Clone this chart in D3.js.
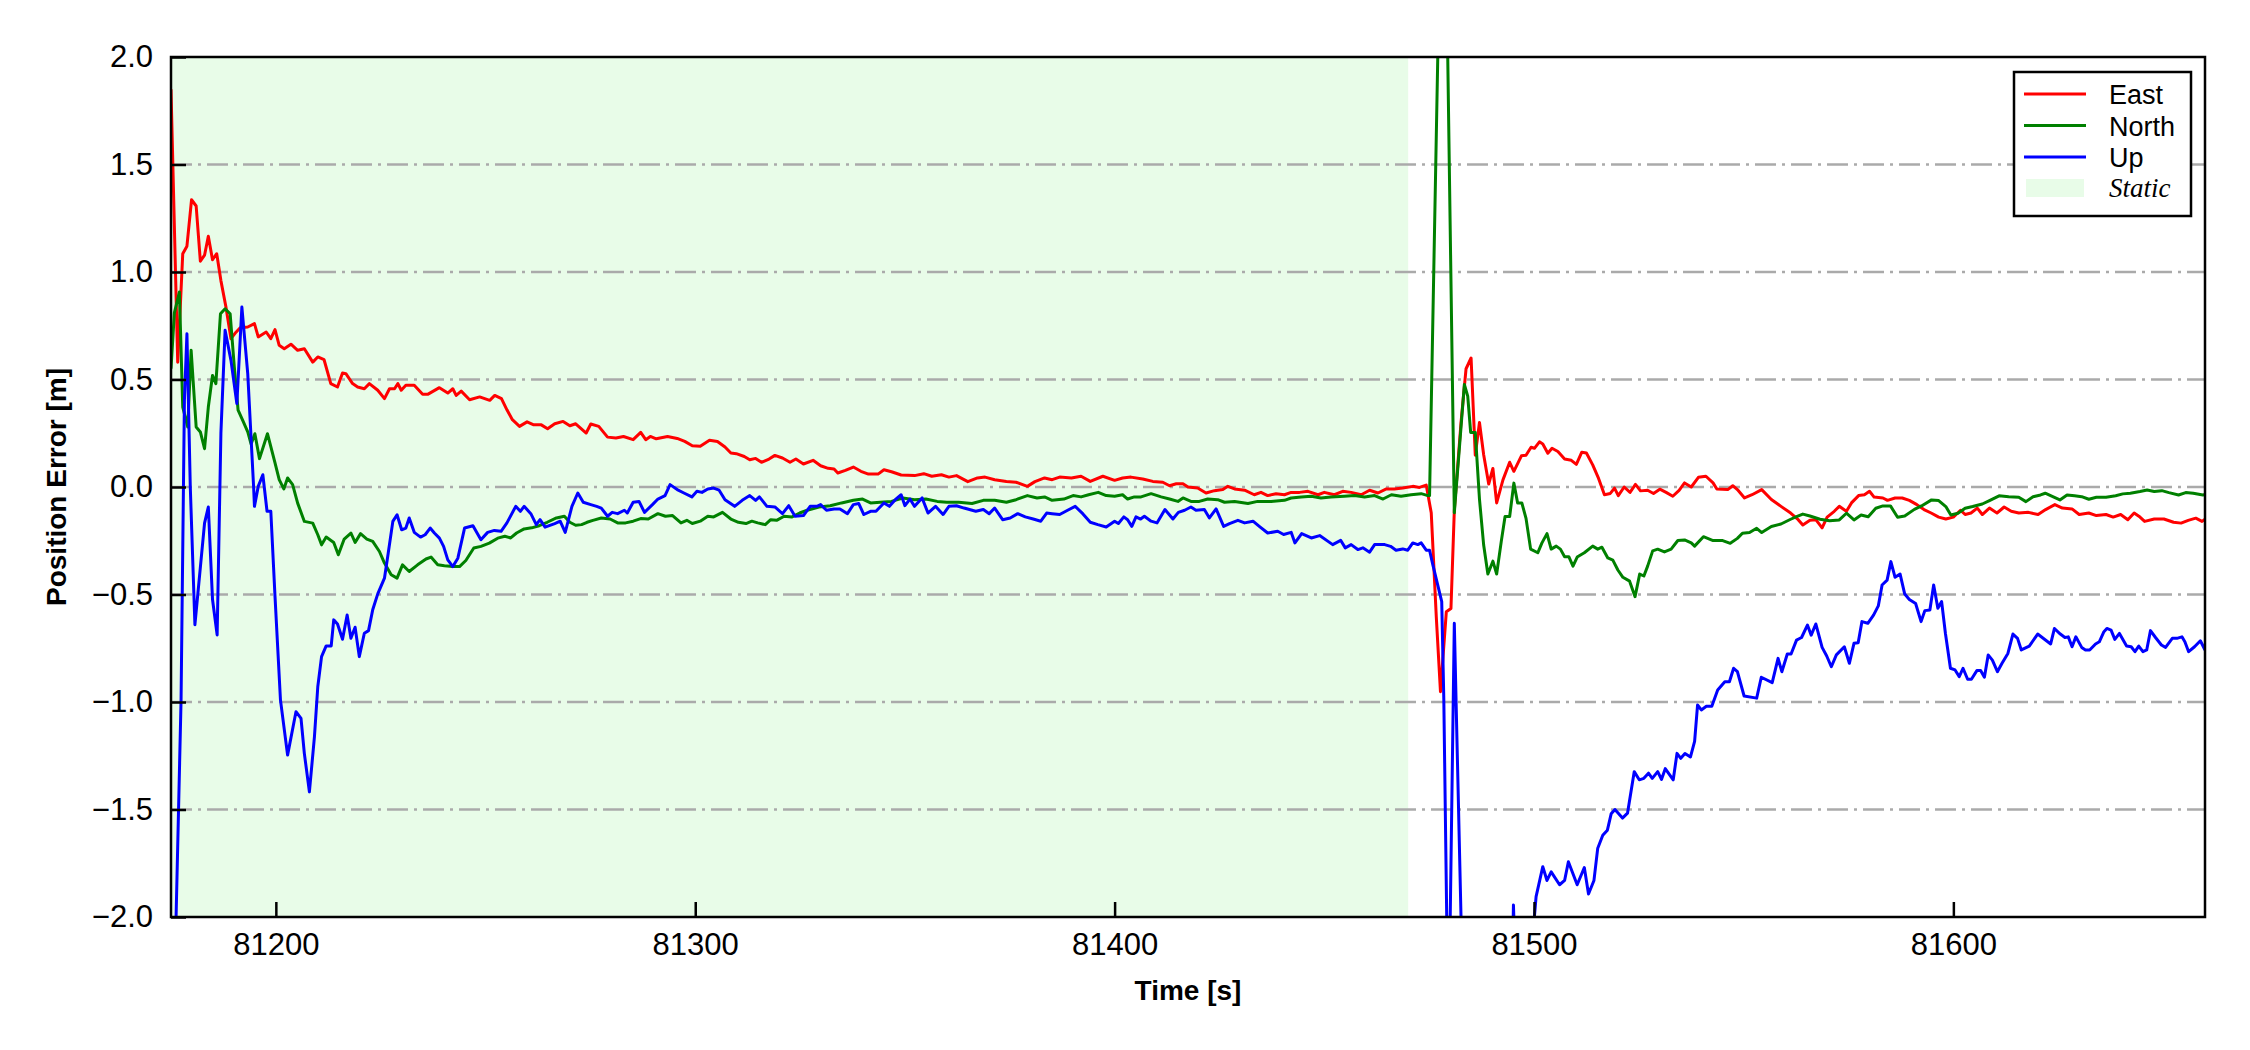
<!DOCTYPE html>
<html>
<head>
<meta charset="utf-8">
<script src="https://cdn.jsdelivr.net/npm/d3@7"></script>
<style>
  body { margin: 0; background: #fff; }
  svg { display: block; font-family: "Liberation Sans", Arial, sans-serif; }
</style>
</head>
<body>
<div id="chart"></div>
<script>
// time range and static period
var timeRange = [81175, 81660];
var staticPeriod = [81175, 81470];
var xTicks = [81200, 81300, 81400, 81500, 81600];
var yTicks = [-2.0, -1.5, -1.0, -0.5, 0.0, 0.5, 1.0, 1.5, 2.0];
var gridValues = [-1.5, -1.0, -0.5, 0.0, 0.5, 1.0, 1.5];
var seriesNames = ["East", "North", "Up"];
var seriesColors = ["#ff0000", "#008000", "#0000ff"];

// [time, error]
var eastPoints = [[81175.0,1.85],[81176.6,0.58],[81177.8,1.085],[81178.8,1.12],[81179.9,1.336],[81181.0,1.307],[81182.0,1.05],[81183.0,1.078],[81183.9,1.166],[81184.9,1.057],[81185.9,1.085],[81186.9,0.96],[81188.1,0.837],[81189.3,0.69],[81190.5,0.72],[81191.5,0.741],[81193.3,0.744],[81194.9,0.76],[81195.8,0.698],[81197.7,0.721],[81198.8,0.69],[81199.8,0.732],[81200.8,0.659],[81202.0,0.643],[81203.6,0.664],[81205.2,0.636],[81206.8,0.643],[81208.8,0.581],[81210.0,0.605],[81211.5,0.592],[81213.1,0.481],[81214.7,0.465],[81215.9,0.53],[81216.7,0.527],[81218.3,0.481],[81219.5,0.465],[81221.1,0.457],[81222.3,0.481],[81224.3,0.45],[81225.9,0.411],[81227.1,0.457],[81228.3,0.457],[81229.1,0.481],[81229.9,0.45],[81231.0,0.473],[81233.0,0.473],[81235.0,0.431],[81236.2,0.431],[81239.0,0.462],[81241.0,0.437],[81242.2,0.457],[81243.0,0.426],[81244.2,0.446],[81246.2,0.406],[81248.6,0.419],[81251.0,0.403],[81252.2,0.426],[81253.8,0.411],[81255.1,0.359],[81256.4,0.313],[81258.1,0.282],[81259.9,0.303],[81261.5,0.289],[81263.3,0.289],[81264.8,0.271],[81266.5,0.294],[81268.5,0.305],[81270.1,0.285],[81271.5,0.294],[81274.0,0.251],[81275.1,0.293],[81277.0,0.282],[81279.1,0.232],[81281.1,0.228],[81282.9,0.235],[81285.2,0.22],[81287.0,0.254],[81288.2,0.22],[81289.3,0.235],[81290.7,0.224],[81293.4,0.235],[81295.7,0.226],[81297.5,0.212],[81299.3,0.192],[81301.2,0.189],[81303.4,0.217],[81305.3,0.212],[81307.1,0.186],[81308.5,0.158],[81309.8,0.155],[81311.7,0.142],[81313.0,0.127],[81314.4,0.133],[81315.8,0.115],[81317.6,0.13],[81319.0,0.147],[81320.8,0.135],[81322.6,0.115],[81324.0,0.13],[81325.8,0.107],[81328.1,0.124],[81329.9,0.099],[81331.7,0.087],[81333.1,0.084],[81334.0,0.065],[81335.8,0.077],[81337.7,0.093],[81339.5,0.073],[81341.3,0.06],[81343.6,0.06],[81345.0,0.08],[81346.8,0.071],[81349.1,0.056],[81352.3,0.053],[81354.5,0.062],[81356.4,0.05],[81358.7,0.057],[81360.5,0.046],[81362.3,0.053],[81365.0,0.025],[81367.3,0.042],[81369.1,0.046],[81371.4,0.034],[81374.2,0.026],[81376.5,0.022],[81379.2,0.003],[81381.0,0.025],[81383.3,0.042],[81385.1,0.034],[81386.9,0.046],[81389.7,0.042],[81392.0,0.05],[81394.2,0.026],[81397.2,0.05],[81400.0,0.031],[81401.9,0.042],[81403.9,0.046],[81406.7,0.037],[81409.1,0.026],[81411.5,0.022],[81413.1,0.006],[81414.7,0.015],[81416.3,0.015],[81417.5,0.0],[81419.8,-0.005],[81421.8,-0.028],[81423.8,-0.017],[81425.8,-0.012],[81427.0,0.003],[81428.6,-0.009],[81431.0,-0.015],[81433.3,-0.036],[81434.9,-0.025],[81436.5,-0.04],[81438.5,-0.031],[81440.5,-0.036],[81442.1,-0.025],[81444.1,-0.025],[81446.1,-0.02],[81448.5,-0.036],[81450.0,-0.025],[81452.4,-0.036],[81454.4,-0.02],[81456.4,-0.025],[81458.8,-0.036],[81460.8,-0.015],[81462.8,-0.028],[81464.8,-0.009],[81466.7,-0.009],[81468.7,-0.005],[81471.1,0.003],[81472.7,-0.002],[81474.3,0.009],[81475.5,-0.12],[81476.7,-0.603],[81477.7,-0.952],[81479.1,-0.58],[81480.2,-0.565],[81481.0,-0.11],[81482.6,0.30],[81483.8,0.55],[81485.0,0.60],[81486.0,0.148],[81487.0,0.30],[81488.0,0.15],[81489.2,0.014],[81490.2,0.086],[81491.1,-0.074],[81492.6,0.033],[81494.2,0.115],[81495.2,0.073],[81497.0,0.145],[81498.1,0.148],[81499.3,0.185],[81500.1,0.18],[81501.3,0.21],[81502.1,0.20],[81503.3,0.157],[81504.3,0.18],[81505.7,0.165],[81507.3,0.13],[81508.9,0.124],[81510.1,0.105],[81511.4,0.162],[81512.5,0.158],[81514.0,0.103],[81515.4,0.04],[81516.8,-0.036],[81518.2,-0.03],[81519.2,-0.005],[81520.1,-0.04],[81521.5,0.0],[81522.9,-0.025],[81524.2,0.012],[81525.4,-0.018],[81527.1,-0.015],[81528.5,-0.03],[81530.0,-0.01],[81531.5,-0.025],[81533.1,-0.043],[81534.6,-0.016],[81535.9,0.019],[81537.5,0.0],[81539.2,0.045],[81541.0,0.05],[81542.7,0.019],[81543.6,-0.009],[81546.2,-0.012],[81547.4,0.006],[81548.5,-0.012],[81550.2,-0.051],[81552.0,-0.036],[81554.3,-0.012],[81556.6,-0.058],[81558.9,-0.09],[81561.2,-0.121],[81563.0,-0.152],[81564.1,-0.177],[81565.8,-0.155],[81567.2,-0.152],[81568.7,-0.19],[81569.9,-0.14],[81571.6,-0.113],[81572.8,-0.09],[81574.5,-0.113],[81575.7,-0.074],[81577.4,-0.04],[81578.8,-0.036],[81580.0,-0.02],[81581.1,-0.047],[81583.2,-0.051],[81584.3,-0.062],[81586.1,-0.051],[81587.8,-0.051],[81589.5,-0.062],[81591.3,-0.082],[81593.0,-0.105],[81594.7,-0.121],[81596.5,-0.14],[81598.2,-0.149],[81600.0,-0.14],[81601.7,-0.108],[81602.8,-0.128],[81604.2,-0.121],[81605.7,-0.098],[81606.9,-0.128],[81608.6,-0.098],[81610.4,-0.121],[81612.1,-0.093],[81613.8,-0.113],[81615.6,-0.121],[81617.9,-0.118],[81620.2,-0.128],[81622.0,-0.105],[81624.2,-0.082],[81626.0,-0.098],[81628.3,-0.102],[81630.0,-0.128],[81632.3,-0.121],[81634.1,-0.133],[81636.4,-0.128],[81638.1,-0.14],[81639.9,-0.128],[81641.6,-0.152],[81643.1,-0.121],[81644.5,-0.14],[81645.6,-0.16],[81647.9,-0.149],[81650.2,-0.149],[81652.5,-0.164],[81654.3,-0.168],[81656.0,-0.155],[81657.8,-0.145],[81659.3,-0.16],[81660.0,-0.15]];

var northPoints = [[81175.0,0.55],[81175.8,0.81],[81177.0,0.907],[81177.8,0.372],[81179.0,0.279],[81179.8,0.636],[81181.0,0.279],[81182.0,0.256],[81183.0,0.178],[81183.9,0.372],[81184.9,0.519],[81185.7,0.481],[81186.8,0.806],[81187.9,0.829],[81189.1,0.806],[81190.1,0.558],[81191.0,0.357],[81192.1,0.31],[81193.3,0.256],[81194.1,0.2],[81195.0,0.248],[81196.1,0.132],[81198.0,0.248],[81199.8,0.112],[81200.8,0.034],[81201.9,-0.009],[81202.8,0.042],[81204.0,0.011],[81205.2,-0.075],[81206.8,-0.16],[81208.8,-0.168],[81210.0,-0.222],[81210.9,-0.269],[81212.0,-0.233],[81213.8,-0.258],[81214.9,-0.315],[81216.3,-0.242],[81217.9,-0.214],[81218.9,-0.258],[81220.2,-0.217],[81221.7,-0.242],[81223.1,-0.253],[81224.7,-0.3],[81225.9,-0.354],[81227.5,-0.408],[81228.9,-0.424],[81230.2,-0.362],[81231.8,-0.393],[81233.8,-0.362],[81235.8,-0.335],[81237.0,-0.326],[81238.6,-0.362],[81240.2,-0.366],[81242.2,-0.37],[81243.8,-0.37],[81245.3,-0.342],[81247.2,-0.284],[81248.9,-0.276],[81250.9,-0.261],[81252.9,-0.238],[81254.6,-0.229],[81256.0,-0.237],[81257.4,-0.214],[81259.2,-0.195],[81261.0,-0.19],[81262.8,-0.18],[81264.7,-0.164],[81266.9,-0.144],[81268.8,-0.136],[81270.1,-0.164],[81271.5,-0.178],[81272.9,-0.175],[81274.2,-0.164],[81275.6,-0.155],[81277.6,-0.144],[81279.7,-0.149],[81281.5,-0.167],[81283.4,-0.167],[81285.2,-0.159],[81287.0,-0.147],[81288.8,-0.149],[81291.1,-0.124],[81292.9,-0.136],[81294.6,-0.133],[81296.6,-0.167],[81298.0,-0.155],[81299.3,-0.17],[81301.2,-0.159],[81303.0,-0.136],[81304.4,-0.139],[81306.5,-0.118],[81308.5,-0.149],[81310.3,-0.164],[81312.1,-0.17],[81313.5,-0.159],[81314.9,-0.167],[81316.7,-0.175],[81318.0,-0.152],[81319.4,-0.155],[81321.2,-0.136],[81323.1,-0.139],[81324.9,-0.121],[81326.7,-0.108],[81329.5,-0.093],[81332.2,-0.087],[81334.9,-0.074],[81337.7,-0.062],[81339.9,-0.056],[81341.8,-0.074],[81344.1,-0.071],[81346.8,-0.067],[81349.5,-0.051],[81352.3,-0.059],[81355.0,-0.056],[81357.7,-0.067],[81360.0,-0.071],[81362.8,-0.071],[81366.0,-0.077],[81368.7,-0.062],[81371.4,-0.062],[81374.2,-0.071],[81376.5,-0.059],[81379.2,-0.04],[81381.5,-0.051],[81383.3,-0.046],[81385.1,-0.062],[81387.9,-0.056],[81390.1,-0.04],[81392.0,-0.046],[81393.8,-0.036],[81396.1,-0.025],[81398.0,-0.04],[81400.0,-0.043],[81401.9,-0.036],[81403.1,-0.056],[81404.7,-0.046],[81406.3,-0.046],[81408.7,-0.031],[81411.1,-0.046],[81413.1,-0.056],[81415.1,-0.067],[81416.3,-0.051],[81418.2,-0.067],[81420.2,-0.067],[81422.2,-0.056],[81424.6,-0.059],[81426.2,-0.071],[81428.6,-0.067],[81431.8,-0.077],[81434.1,-0.067],[81437.3,-0.067],[81440.5,-0.062],[81442.1,-0.051],[81444.5,-0.046],[81446.9,-0.043],[81449.2,-0.051],[81451.6,-0.046],[81454.8,-0.043],[81457.2,-0.04],[81459.6,-0.046],[81462.0,-0.04],[81464.0,-0.056],[81466.0,-0.036],[81468.3,-0.043],[81470.7,-0.036],[81473.1,-0.031],[81474.7,-0.04],[81475.1,-0.04],[81478.4,3.4],[81481.0,-0.12],[81483.4,0.477],[81484.2,0.423],[81484.9,0.254],[81486.0,0.254],[81487.0,-0.056],[81488.0,-0.27],[81489.0,-0.405],[81490.2,-0.345],[81491.1,-0.405],[81492.2,-0.253],[81493.1,-0.137],[81494.2,-0.137],[81495.2,0.018],[81496.1,-0.074],[81497.1,-0.074],[81498.1,-0.146],[81499.2,-0.289],[81500.9,-0.306],[81501.9,-0.26],[81503.1,-0.217],[81504.1,-0.289],[81505.3,-0.275],[81506.3,-0.289],[81507.3,-0.324],[81508.3,-0.324],[81509.3,-0.368],[81510.3,-0.326],[81512.0,-0.306],[81514.0,-0.275],[81515.2,-0.289],[81516.2,-0.28],[81517.6,-0.33],[81518.8,-0.34],[81520.0,-0.386],[81521.2,-0.42],[81522.8,-0.438],[81524.1,-0.51],[81525.2,-0.405],[81526.2,-0.414],[81527.1,-0.368],[81528.3,-0.297],[81529.5,-0.289],[81531.1,-0.302],[81532.7,-0.289],[81534.3,-0.249],[81535.9,-0.246],[81537.5,-0.26],[81538.3,-0.275],[81540.4,-0.231],[81542.7,-0.249],[81545.0,-0.249],[81546.8,-0.262],[81548.5,-0.239],[81549.7,-0.215],[81551.4,-0.212],[81553.1,-0.192],[81554.3,-0.212],[81556.6,-0.184],[81558.9,-0.172],[81561.2,-0.15],[81562.6,-0.138],[81564.1,-0.126],[81565.8,-0.135],[81568.2,-0.15],[81570.5,-0.157],[81572.8,-0.153],[81574.5,-0.122],[81576.3,-0.153],[81578.0,-0.13],[81579.7,-0.138],[81581.5,-0.099],[81583.2,-0.088],[81585.0,-0.088],[81586.7,-0.141],[81588.4,-0.135],[81590.7,-0.104],[81592.4,-0.088],[81594.8,-0.06],[81596.5,-0.063],[81598.2,-0.091],[81599.4,-0.13],[81601.1,-0.122],[81602.8,-0.099],[81604.6,-0.091],[81606.9,-0.079],[81608.6,-0.063],[81610.9,-0.041],[81613.2,-0.045],[81615.6,-0.048],[81617.3,-0.068],[81619.0,-0.045],[81620.8,-0.037],[81621.9,-0.029],[81623.7,-0.045],[81625.4,-0.06],[81627.1,-0.037],[81628.9,-0.041],[81630.6,-0.045],[81632.3,-0.057],[81634.1,-0.048],[81636.4,-0.048],[81638.7,-0.041],[81640.4,-0.032],[81642.2,-0.029],[81644.5,-0.021],[81646.2,-0.014],[81647.9,-0.021],[81649.7,-0.017],[81651.4,-0.026],[81653.7,-0.037],[81655.4,-0.026],[81657.2,-0.029],[81659.5,-0.037],[81660.0,-0.035]];

var upPoints = [[81175.0,-3.2],[81176.2,-2.01],[81177.4,-0.99],[81178.2,0.405],[81178.8,0.713],[81179.6,0.0],[81180.7,-0.641],[81183.0,-0.168],[81183.9,-0.093],[81184.9,-0.523],[81186.0,-0.688],[81186.9,0.25],[81187.9,0.729],[81189.3,0.589],[81190.7,0.388],[81191.9,0.837],[81193.3,0.527],[81194.7,0.0],[81194.9,-0.09],[81195.8,0.003],[81196.9,0.057],[81197.9,-0.113],[81198.8,-0.113],[81199.8,-0.509],[81201.1,-0.99],[81202.8,-1.247],[81204.8,-1.045],[81206.0,-1.076],[81206.8,-1.24],[81208.0,-1.418],[81209.2,-1.162],[81210.0,-0.929],[81210.9,-0.789],[81212.0,-0.739],[81213.2,-0.739],[81213.8,-0.618],[81214.7,-0.637],[81215.9,-0.708],[81217.0,-0.595],[81217.9,-0.703],[81218.9,-0.652],[81219.9,-0.789],[81221.1,-0.68],[81222.1,-0.668],[81223.1,-0.571],[81224.3,-0.497],[81225.9,-0.424],[81226.8,-0.307],[81227.9,-0.16],[81228.9,-0.129],[81230.0,-0.199],[81231.0,-0.191],[81231.8,-0.144],[81233.0,-0.211],[81234.5,-0.233],[81235.6,-0.222],[81236.8,-0.191],[81237.8,-0.214],[81239.0,-0.238],[81240.0,-0.276],[81241.0,-0.339],[81242.2,-0.37],[81243.4,-0.331],[81245.0,-0.191],[81247.0,-0.18],[81248.9,-0.245],[81250.5,-0.211],[81252.1,-0.202],[81253.7,-0.206],[81255.1,-0.167],[81257.2,-0.09],[81258.3,-0.113],[81259.2,-0.09],[81260.8,-0.124],[81262.1,-0.175],[81263.0,-0.152],[81264.2,-0.187],[81266.5,-0.17],[81267.8,-0.159],[81269.0,-0.211],[81270.6,-0.09],[81272.0,-0.028],[81273.3,-0.071],[81275.1,-0.082],[81276.5,-0.09],[81277.6,-0.098],[81279.1,-0.136],[81280.2,-0.118],[81281.5,-0.124],[81283.1,-0.108],[81283.8,-0.121],[81285.2,-0.071],[81286.6,-0.067],[81287.9,-0.118],[81289.8,-0.082],[81291.1,-0.056],[81292.8,-0.04],[81294.0,0.011],[81295.7,-0.012],[81297.3,-0.028],[81299.2,-0.046],[81300.4,-0.02],[81301.6,-0.025],[81303.0,-0.009],[81304.4,-0.005],[81305.7,-0.015],[81307.1,-0.059],[81309.4,-0.09],[81311.2,-0.062],[81313.0,-0.04],[81314.4,-0.062],[81315.3,-0.046],[81317.1,-0.09],[81319.0,-0.093],[81320.8,-0.124],[81322.3,-0.087],[81323.8,-0.136],[81325.8,-0.133],[81327.4,-0.09],[81329.0,-0.09],[81329.9,-0.082],[81331.3,-0.108],[81333.1,-0.102],[81334.5,-0.102],[81336.3,-0.124],[81337.7,-0.082],[81339.0,-0.077],[81340.2,-0.128],[81341.8,-0.113],[81343.1,-0.113],[81345.0,-0.074],[81346.3,-0.09],[81347.7,-0.059],[81349.1,-0.036],[81350.0,-0.087],[81351.2,-0.056],[81352.3,-0.09],[81354.1,-0.051],[81355.5,-0.121],[81357.3,-0.09],[81359.1,-0.128],[81360.5,-0.09],[81362.3,-0.087],[81364.1,-0.098],[81366.9,-0.113],[81368.7,-0.105],[81370.1,-0.124],[81371.4,-0.098],[81373.3,-0.152],[81375.1,-0.144],[81376.9,-0.124],[81378.7,-0.139],[81380.6,-0.149],[81382.4,-0.159],[81383.8,-0.121],[81385.1,-0.124],[81386.9,-0.128],[81388.8,-0.108],[81390.6,-0.09],[81392.4,-0.124],[81394.2,-0.164],[81396.0,-0.175],[81398.0,-0.186],[81400.0,-0.159],[81400.9,-0.17],[81402.2,-0.139],[81403.1,-0.152],[81404.1,-0.183],[81405.1,-0.139],[81406.2,-0.149],[81407.1,-0.136],[81408.7,-0.159],[81410.1,-0.167],[81412.0,-0.105],[81413.9,-0.149],[81415.2,-0.118],[81416.7,-0.108],[81418.2,-0.093],[81419.4,-0.108],[81421.4,-0.105],[81422.6,-0.144],[81424.2,-0.102],[81426.0,-0.183],[81427.4,-0.17],[81429.4,-0.155],[81431.0,-0.167],[81433.0,-0.159],[81434.5,-0.183],[81436.5,-0.214],[81438.9,-0.206],[81440.3,-0.221],[81442.1,-0.211],[81443.0,-0.26],[81444.6,-0.217],[81446.9,-0.237],[81448.9,-0.226],[81452.0,-0.268],[81453.9,-0.248],[81455.0,-0.283],[81456.4,-0.268],[81458.0,-0.291],[81459.2,-0.283],[81460.8,-0.303],[81462.0,-0.268],[81464.4,-0.268],[81465.8,-0.276],[81467.1,-0.294],[81468.7,-0.288],[81469.9,-0.294],[81471.1,-0.26],[81472.3,-0.268],[81473.1,-0.26],[81474.3,-0.294],[81475.1,-0.294],[81475.9,-0.363],[81478.0,-0.533],[81478.5,-0.99],[81479.6,-2.6],[81481.0,-0.634],[81482.6,-2.0],[81483.5,-2.6],[81494.5,-2.6],[81495.1,-1.944],[81495.7,-2.3],[81498.8,-2.3],[81500.5,-1.905],[81502.1,-1.766],[81503.1,-1.83],[81504.1,-1.79],[81506.1,-1.85],[81507.3,-1.83],[81508.2,-1.743],[81510.3,-1.85],[81512.0,-1.77],[81513.0,-1.893],[81514.3,-1.83],[81515.2,-1.68],[81516.4,-1.62],[81517.5,-1.596],[81518.4,-1.52],[81519.3,-1.50],[81521.1,-1.54],[81522.3,-1.517],[81523.9,-1.324],[81525.1,-1.362],[81526.2,-1.355],[81527.3,-1.331],[81528.2,-1.355],[81529.5,-1.324],[81530.4,-1.36],[81531.3,-1.31],[81533.2,-1.362],[81534.1,-1.239],[81535.0,-1.262],[81536.0,-1.24],[81537.3,-1.256],[81538.3,-1.183],[81539.0,-1.014],[81539.9,-1.037],[81541.1,-1.02],[81542.4,-1.02],[81543.8,-0.944],[81545.5,-0.906],[81546.6,-0.906],[81547.6,-0.843],[81548.5,-0.859],[81550.1,-0.972],[81553.1,-0.982],[81554.2,-0.885],[81556.8,-0.91],[81558.2,-0.797],[81559.1,-0.859],[81560.4,-0.777],[81561.3,-0.777],[81562.6,-0.712],[81563.8,-0.70],[81565.2,-0.642],[81566.1,-0.689],[81567.2,-0.637],[81568.7,-0.746],[81569.8,-0.786],[81570.9,-0.836],[81572.1,-0.781],[81574.0,-0.743],[81575.2,-0.82],[81576.3,-0.727],[81577.3,-0.724],[81578.2,-0.626],[81579.6,-0.634],[81581.0,-0.595],[81582.1,-0.553],[81583.0,-0.456],[81584.2,-0.433],[81585.1,-0.347],[81586.1,-0.42],[81587.3,-0.405],[81588.4,-0.498],[81589.5,-0.523],[81591.0,-0.542],[81592.3,-0.626],[81593.2,-0.575],[81594.4,-0.572],[81595.3,-0.456],[81596.3,-0.564],[81597.2,-0.533],[81598.1,-0.68],[81599.3,-0.843],[81600.4,-0.851],[81601.4,-0.882],[81602.3,-0.843],[81603.4,-0.894],[81604.3,-0.894],[81605.6,-0.854],[81606.5,-0.854],[81607.4,-0.885],[81608.3,-0.781],[81609.3,-0.805],[81610.5,-0.859],[81611.6,-0.82],[81613.0,-0.774],[81614.2,-0.684],[81615.3,-0.704],[81616.2,-0.758],[81618.1,-0.74],[81620.1,-0.684],[81621.8,-0.709],[81623.2,-0.73],[81624.1,-0.658],[81625.5,-0.684],[81626.6,-0.70],[81627.4,-0.697],[81628.3,-0.743],[81629.2,-0.697],[81630.6,-0.746],[81631.5,-0.758],[81632.5,-0.758],[81633.9,-0.73],[81634.8,-0.72],[81635.9,-0.673],[81636.6,-0.658],[81637.6,-0.666],[81638.5,-0.709],[81639.6,-0.681],[81641.3,-0.74],[81642.4,-0.743],[81643.3,-0.766],[81644.2,-0.74],[81645.2,-0.766],[81646.1,-0.758],[81647.0,-0.668],[81648.2,-0.70],[81649.6,-0.735],[81650.6,-0.746],[81652.2,-0.704],[81653.3,-0.704],[81654.5,-0.697],[81655.2,-0.72],[81656.1,-0.766],[81657.5,-0.743],[81658.9,-0.715],[81660.0,-0.758]];

var width = 2250;
var height = 1050;
var margin = {top: 57, right: 45, bottom: 133, left: 171};
var plotW = width - margin.left - margin.right;
var plotH = height - margin.top - margin.bottom;

// set the ranges
var x = d3.scaleLinear().domain(timeRange).range([0, plotW]);
var y = d3.scaleLinear().domain([-2, 2]).range([plotH, 0]);

var svg = d3.select("#chart")
  .append("svg")
    .attr("width", width)
    .attr("height", height);

var g = svg.append("g")
    .attr("transform", "translate(" + margin.left + "," + margin.top + ")");

g.append("clipPath")
    .attr("id", "plot-clip")
  .append("rect")
    .attr("width", plotW)
    .attr("height", plotH);

// static shading
g.append("rect")
    .attr("x", x(staticPeriod[0]))
    .attr("y", 0)
    .attr("width", x(staticPeriod[1]) - x(staticPeriod[0]))
    .attr("height", plotH)
    .attr("fill", "#e8fce8");

// dash-dot horizontal grid
g.selectAll(".grid")
  .data(gridValues).enter().append("line")
    .attr("class", "grid")
    .attr("x1", 0)
    .attr("x2", plotW)
    .attr("y1", function(d) { return y(d); })
    .attr("y2", function(d) { return y(d); })
    .attr("stroke", "#aaaaaa")
    .attr("stroke-width", 2.5)
    .attr("stroke-dasharray", "21,6,3,6");

// the three error lines
var line = d3.line()
    .x(function(d) { return x(d[0]); })
    .y(function(d) { return y(d[1]); });

var allSeries = [eastPoints, northPoints, upPoints];
g.append("g")
    .attr("clip-path", "url(#plot-clip)")
  .selectAll("path")
  .data(allSeries).enter().append("path")
    .attr("d", line)
    .attr("fill", "none")
    .attr("stroke", function(d, i) { return seriesColors[i]; })
    .attr("stroke-width", 3)
    .attr("stroke-linejoin", "round");

// axes, ticks pointing inwards
var xAxis = g.append("g")
    .attr("transform", "translate(0," + plotH + ")")
    .call(d3.axisBottom(x).tickValues(xTicks).tickFormat(d3.format("d"))
      .tickSize(-15).tickPadding(16));

var yAxis = g.append("g")
    .call(d3.axisLeft(y).tickValues(yTicks).tickFormat(d3.format(".1f"))
      .tickSize(-15).tickPadding(18));

[xAxis, yAxis].forEach(function(ax) {
  ax.select(".domain").remove();
  ax.selectAll(".tick line").attr("stroke", "#000").attr("stroke-width", 2.5);
  ax.selectAll(".tick text")
    .attr("fill", "#000")
    .style("font-family", "'Liberation Sans', Arial, sans-serif")
    .style("font-size", "31px");
});

// frame
g.append("rect")
    .attr("width", plotW)
    .attr("height", plotH)
    .attr("fill", "none")
    .attr("stroke", "#000")
    .attr("stroke-width", 2.5);

// axis labels
svg.append("text")
    .attr("x", margin.left + plotW / 2)
    .attr("y", 1000)
    .attr("text-anchor", "middle")
    .style("font-size", "28px")
    .style("font-weight", "bold")
    .text("Time [s]");

svg.append("text")
    .attr("transform", "translate(66," + (margin.top + plotH / 2) + ") rotate(-90)")
    .attr("text-anchor", "middle")
    .style("font-size", "28px")
    .style("font-weight", "bold")
    .text("Position Error [m]");

// legend
var legend = svg.append("g").attr("transform", "translate(2014,72)");
legend.append("rect")
    .attr("width", 177)
    .attr("height", 144)
    .attr("fill", "#fff")
    .attr("stroke", "#000")
    .attr("stroke-width", 2.5);

seriesNames.forEach(function(name, i) {
  var row = 22 + i * 31.5;
  legend.append("line")
      .attr("x1", 10).attr("x2", 72)
      .attr("y1", row).attr("y2", row)
      .attr("stroke", seriesColors[i])
      .attr("stroke-width", 3);
  legend.append("text")
      .attr("x", 95)
      .attr("y", row + 10)
      .style("font-size", "27px")
      .text(name);
});

legend.append("rect")
    .attr("x", 12).attr("y", 107)
    .attr("width", 58).attr("height", 18)
    .attr("fill", "#e8fce8");
legend.append("text")
    .attr("x", 95)
    .attr("y", 125)
    .style("font-family", "'Liberation Serif', 'Times New Roman', serif")
    .style("font-style", "italic")
    .style("font-size", "27px")
    .text("Static");
</script>
</body>
</html>
